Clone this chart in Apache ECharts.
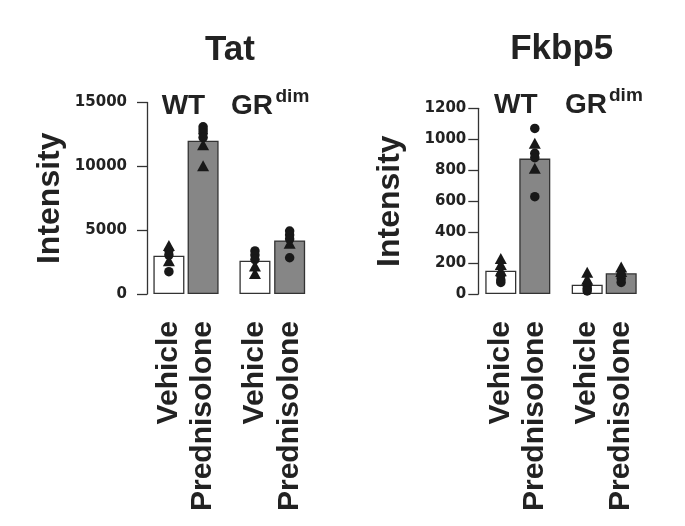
<!DOCTYPE html>
<html><head><meta charset="utf-8">
<script src="https://cdn.jsdelivr.net/npm/echarts@6/dist/echarts.min.js"></script>
<style>html,body{margin:0;padding:0;background:#fff}#c{width:685px;height:526px}</style>
</head><body><div id="c"></div><script>
// ---------- data ----------
const treatments = ['Vehicle', 'Prednisolone'];
const panelTitles = ['Tat', 'Fkbp5'];
const groupLabels = ['WT', 'GR'];
const groupSup = ['', 'dim'];
const yAxisName = 'Intensity';
const tatMax = 15000, tatStep = 5000;
const fkbMax = 1200, fkbStep = 200;

// bar heights [Vehicle, Prednisolone]
const tatWtBars = [3000, 12000];
const tatGrBars = [2600, 4200];
const fkbWtBars = [150, 875];
const fkbGrBars = [60, 134];

// individual animals: [treatment index, value]
const tatWtCircles   = [[0,3400],[0,3050],[0,1750],[1,13100],[1,12850],[1,12600],[1,12250]];
const tatWtTriangles = [[0,3800],[0,2600],[1,11700],[1,10050]];
const tatGrCircles   = [[0,3370],[0,3050],[0,2700],[1,4930],[1,4620],[1,4300],[1,2840]];
const tatGrTriangles = [[0,2200],[0,1600],[1,3970]];
const fkbWtCircles   = [[0,120],[0,90],[0,75],[1,1070],[1,909],[1,881],[1,629]];
const fkbWtTriangles = [[0,230],[0,190],[0,150],[1,974],[1,812]];
const fkbGrCircles   = [[0,55],[0,35],[0,20],[1,125],[1,100],[1,75]];
const fkbGrTriangles = [[0,140],[0,95],[1,175],[1,145]];

// ---------- styling ----------
const INK = '#222222';
const barFill = ['#ffffff', '#868686'];
const FONT = '"Liberation Sans", Arial, sans-serif';

const grids = [
  {left:151.8, top:102.5, width:68.4, height:191.5},
  {left:237.6, top:102.5, width:69.4, height:191.5},
  {left:483.8, top:108.3, width:68,   height:185.7},
  {left:570.2, top:108.3, width:68,   height:185.7}
];
const panels = [
  {max:tatMax, step:tatStep, offset:4.8, labelMargin:20, nameGap:81},
  {max:fkbMax, step:fkbStep, offset:5.5, labelMargin:12, nameGap:72}
];
const gridPanel = [0,0,1,1];
const barsPerGrid = [tatWtBars, tatGrBars, fkbWtBars, fkbGrBars];
const circlesPerGrid = [tatWtCircles, tatGrCircles, fkbWtCircles, fkbGrCircles];
const trianglesPerGrid = [tatWtTriangles, tatGrTriangles, fkbWtTriangles, fkbGrTriangles];

const xAxes = grids.map((g, i) => ({
  type:'category', gridIndex:i, data:treatments,
  axisLine:{show:false}, axisTick:{show:false},
  axisLabel:{interval:0, rotate:90, margin:27, fontSize:30, fontWeight:'bold', fontFamily:FONT, color:INK}
}));
const yAxes = grids.map((g, i) => {
  const p = panels[gridPanel[i]];
  const first = (i % 2 === 0);
  return {
    type:'value', gridIndex:i, min:0, max:p.max, interval:p.step,
    show:first, offset:p.offset,
    axisLine:{show:true, lineStyle:{color:'#333', width:1.3}},
    axisTick:{show:true, length:10, lineStyle:{color:'#333', width:1.3}},
    splitLine:{show:false},
    axisLabel:{margin:p.labelMargin, fontSize:15, fontWeight:'bold', fontFamily:'"DejaVu Sans"', color:INK,
      formatter: v => String(v)},
    name: first ? yAxisName : '', nameLocation:'middle', nameGap:p.nameGap,
    nameTextStyle:{fontSize:32, fontWeight:700, fontFamily:FONT, color:INK}
  };
});

const series = [];
grids.forEach((g, i) => {
  series.push({
    type:'bar', xAxisIndex:i, yAxisIndex:i, barWidth:31, silent:true,
    data: barsPerGrid[i].map((v, k) => ({value:v, itemStyle:{color:barFill[k], borderColor:'#333', borderWidth:1.3}})),
    z:2
  });
  series.push({
    type:'scatter', xAxisIndex:i, yAxisIndex:i, symbol:'circle', symbolSize:9.5,
    itemStyle:{color:'#181818', opacity:1}, data:circlesPerGrid[i], z:4
  });
  series.push({
    type:'scatter', xAxisIndex:i, yAxisIndex:i, symbol:'triangle', symbolSize:[12,11],
    itemStyle:{color:'#181818', opacity:1}, data:trianglesPerGrid[i], z:5
  });
});

function txt(text, x, y, size, align) {
  return {type:'text', x:x, y:y, style:{text:text, fill:INK, fontSize:size, fontWeight:'bold', fontFamily:FONT,
    textAlign:align || 'center', textVerticalAlign:'middle'}};
}
const graphic = [
  txt(panelTitles[0], 230, 50, 35),
  txt(panelTitles[1], 561.7, 49, 35),
  txt(groupLabels[0], 183.4, 105.8, 28),
  txt(groupLabels[1], 231, 105.8, 28, 'left'),
  txt(groupSup[1], 275.5, 97, 19, 'left'),
  txt(groupLabels[0], 515.8, 104.8, 28),
  txt(groupLabels[1], 565, 104.8, 28, 'left'),
  txt(groupSup[1], 609, 96, 19, 'left')
];

const chart = echarts.init(document.getElementById('c'), null, {renderer:'canvas'});
chart.setOption({
  animation:false, backgroundColor:'#fff',
  grid:grids, xAxis:xAxes, yAxis:yAxes, series:series, graphic:graphic
});
</script></body></html>
